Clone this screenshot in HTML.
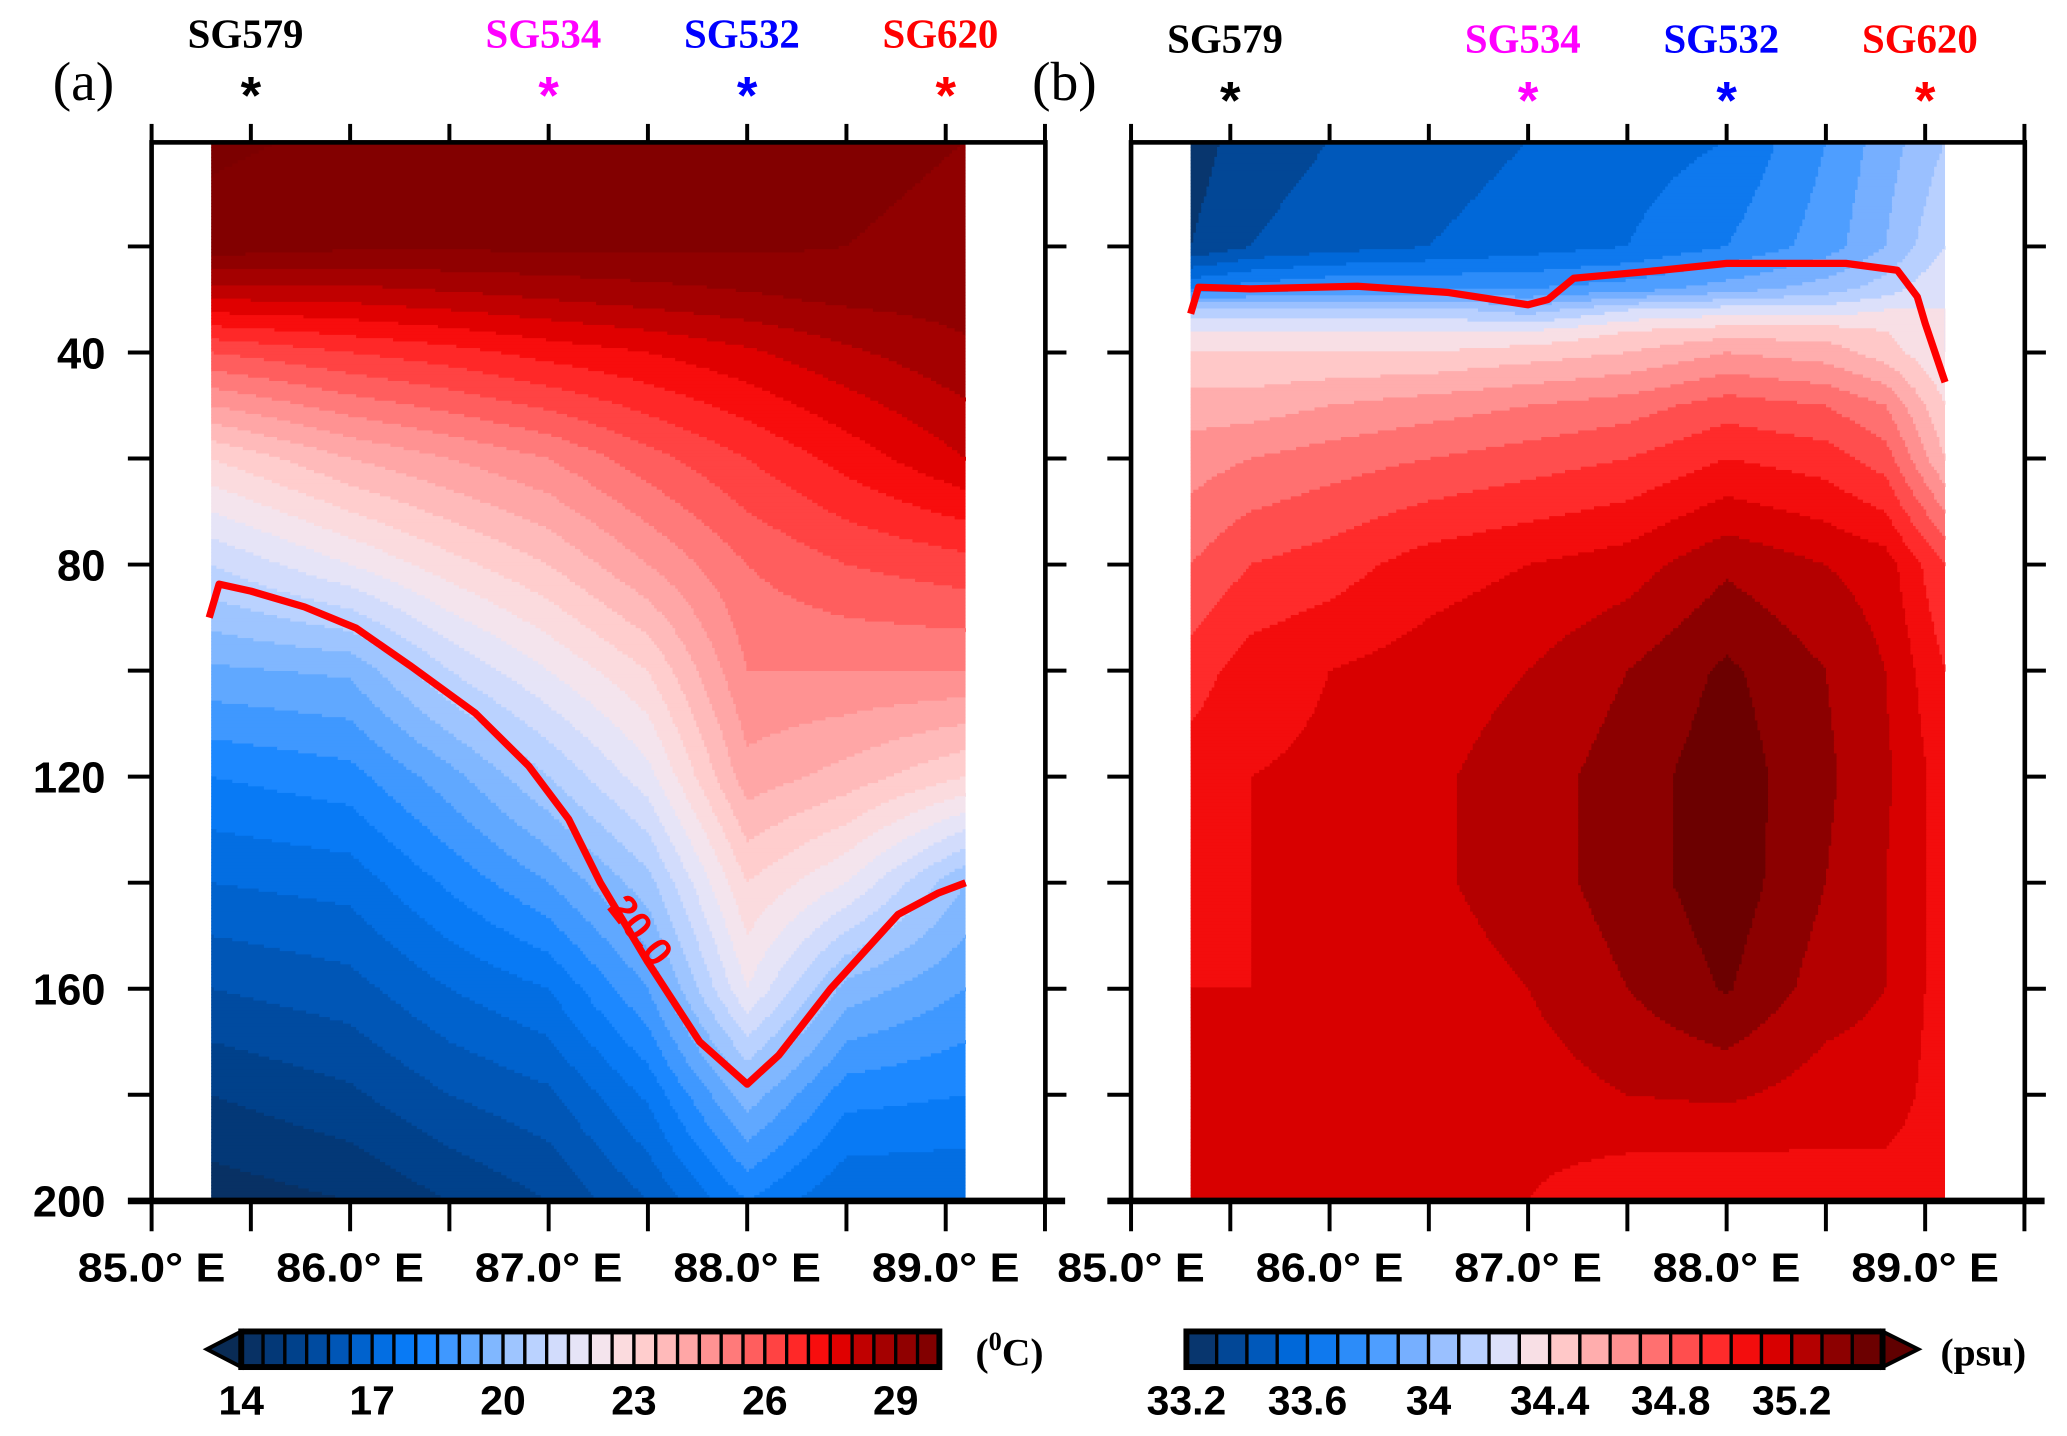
<!DOCTYPE html>
<html><head><meta charset="utf-8"><style>
html,body{margin:0;padding:0;background:#fff}
svg{display:block}
text{font-family:"Liberation Sans",sans-serif}
.ser{font-family:"Liberation Serif",serif}
</style></head><body>
<svg id="chart" xmlns="http://www.w3.org/2000/svg" width="2067" height="1436" viewBox="0 0 1568 1089.3" preserveAspectRatio="none">
<g id="root"></g>
</svg>
<script>
// ---------- data: temperature panel (a) ----------
const tLons = [85.3, 86, 86.5, 87, 87.5, 88, 88.5, 89.1];
const tDepths = [0, 20, 30, 40, 60, 80, 100, 120, 140, 160, 180, 200];
const tempRow0   = [30.1, 29.9, 29.8, 29.8, 29.7, 29.7, 29.6, 29.5];
const tempRow20  = [29.8, 29.6, 29.6, 29.6, 29.6, 29.6, 29.5, 29.4];
const tempRow30  = [28.0, 28.1, 28.3, 28.5, 28.7, 28.9, 29.1, 29.2];
const tempRow40  = [26.0, 26.5, 26.8, 27.2, 27.5, 27.9, 28.4, 28.9];
const tempRow60  = [23.0, 24.0, 24.5, 25.0, 25.8, 26.5, 27.2, 28.0];
const tempRow80  = [21.0, 22.0, 22.8, 23.5, 24.5, 25.5, 26.0, 26.3];
const tempRow100 = [19.4, 19.6, 21.0, 22.0, 23.0, 25.0, 25.0, 25.0];
const tempRow120 = [18.0, 18.3, 19.3, 20.5, 21.8, 24.3, 23.8, 23.0];
const tempRow140 = [17.0, 17.2, 18.1, 19.0, 20.3, 23.0, 22.0, 20.0];
const tempRow160 = [16.0, 16.3, 17.0, 17.5, 19.0, 22.0, 19.8, 19.0];
const tempRow180 = [15.0, 15.4, 16.0, 16.4, 17.6, 19.8, 18.2, 18.0];
const tempRow200 = [14.2, 14.5, 15.0, 15.5, 16.5, 18.0, 17.0, 17.0];
const tempRows = [tempRow0,tempRow20,tempRow30,tempRow40,tempRow60,tempRow80,tempRow100,tempRow120,tempRow140,tempRow160,tempRow180,tempRow200];
const iso20Lon   = [85.29,85.34,85.5,85.77,86.03,86.3,86.63,86.9,87.1,87.26,87.5,87.76,88.0,88.16,88.42,88.76,88.96,89.1];
const iso20Depth = [90,83.7,85,88,92,99,108,118,128,140,155,170,178,172.5,160,146,142,140];
// ---------- data: salinity panel (b) ----------
const sLons = [85.3, 85.6, 86, 86.5, 87, 87.5, 88, 88.5, 88.8, 89.1];
const sDepths = [0, 20, 28, 32, 36, 40, 50, 60, 80, 100, 120, 140, 160, 180, 200];
const salRow0   = [33.25,33.35,33.4,33.45,33.5,33.55,33.6,33.8,33.95,34.1];
const salRow20  = [33.3,33.4,33.45,33.5,33.55,33.6,33.7,33.85,34.0,34.2];
const salRow28  = [33.7,33.75,33.8,33.8,33.8,33.85,33.95,34.05,34.15,34.3];
const salRow32  = [34.15,34.15,34.15,34.15,34.05,34.2,34.25,34.25,34.3,34.3];
const salRow36  = [34.3,34.3,34.3,34.3,34.3,34.4,34.45,34.45,34.4,34.3];
const salRow40  = [34.4,34.4,34.4,34.4,34.45,34.5,34.6,34.55,34.45,34.3];
const salRow50  = [34.55,34.55,34.6,34.65,34.7,34.75,34.85,34.8,34.7,34.4];
const salRow60  = [34.65,34.7,34.75,34.8,34.85,34.9,35.0,34.95,34.85,34.5];
const salRow80  = [34.8,34.9,34.95,35.05,35.1,35.15,35.28,35.2,35.15,34.9];
const salRow100 = [34.95,35.05,35.1,35.15,35.2,35.3,35.42,35.3,35.2,35.0];
const salRow120 = [35.05,35.1,35.12,35.18,35.25,35.35,35.46,35.32,35.22,35.05];
const salRow140 = [35.08,35.1,35.12,35.18,35.25,35.35,35.46,35.3,35.2,35.05];
const salRow160 = [35.1,35.1,35.12,35.15,35.2,35.3,35.41,35.25,35.2,35.05];
const salRow180 = [35.15,35.15,35.15,35.15,35.15,35.2,35.22,35.15,35.15,35.05];
const salRow200 = [35.15,35.15,35.15,35.15,35.1,35.02,35.0,35.05,35.05,35.05];
const salRows = [salRow0,salRow20,salRow28,salRow32,salRow36,salRow40,salRow50,salRow60,salRow80,salRow100,salRow120,salRow140,salRow160,salRow180,salRow200];
const isoSLon   = [85.3,85.34,85.6,86.14,86.6,87.0,87.1,87.23,87.67,88.0,88.6,88.86,88.96,89.0,89.1];
const isoSDepth = [32.7,27.7,28,27.5,28.7,31,30,26,24.5,23.2,23.2,24.5,29.5,34.5,45.6];
// ---------- labels ----------
const xTickLabels = ["85.0° E","86.0° E","87.0° E","88.0° E","89.0° E"];
const xTickValues = [85,86,87,88,89];
const yTickLabels = ["40","80","120","160","200"];
const yTickValues = [40,80,120,160,200];
const gliderNames = ["SG579","SG534","SG532","SG620"];
const gliderLons = [85.5,87.0,88.0,89.0];
const gliderColors = ["#000","#ff00ff","#0000ff","#ff0000"];
const tBarLabels = ["14","17","20","23","26","29"];
const tBarValues = [14,17,20,23,26,29];
const sBarLabels = ["33.2","33.6","34","34.4","34.8","35.2"];
const sBarValues = [33.2,33.6,34.0,34.4,34.8,35.2];

const tStops = [[13.5,"#082850"],[14,"#0a2d5a"],[15,"#003c80"],[16,"#0050aa"],[17,"#0068d8"],[18,"#0a80ff"],[19,"#50a0ff"],[20,"#90bfff"],[21,"#c8d8ff"],[22,"#f0e8f4"],[23,"#ffd6d6"],[24,"#ffb0b0"],[25,"#ff8888"],[26,"#ff5050"],[27,"#ff1a1a"],[27.5,"#f00000"],[28,"#d00000"],[28.5,"#b00000"],[29,"#980000"],[29.5,"#880000"],[30,"#7c0000"]];
const sStops = [[33.1,"#082850"],[33.2,"#0a2d5a"],[33.4,"#0050aa"],[33.6,"#0070e8"],[33.8,"#3a95ff"],[34.0,"#8ab8ff"],[34.2,"#c8d8ff"],[34.3,"#f0e8f4"],[34.4,"#ffd6d6"],[34.6,"#ffa0a0"],[34.8,"#ff6060"],[35.0,"#ff1a1a"],[35.1,"#e80000"],[35.2,"#c80000"],[35.3,"#a00000"],[35.4,"#780000"],[35.5,"#600000"]];

const NS = "http://www.w3.org/2000/svg";
const root = document.getElementById('root');
function mk(tag, attrs, parent){const e=document.createElementNS(NS,tag);for(const k in attrs)e.setAttribute(k,attrs[k]);(parent||root).appendChild(e);return e;}
function hex(c){return [parseInt(c.substr(1,2),16),parseInt(c.substr(3,2),16),parseInt(c.substr(5,2),16)];}
function cmap(stops,v){
  if(v<=stops[0][0])return stops[0][1];
  for(let i=1;i<stops.length;i++){if(v<=stops[i][0]){const a=hex(stops[i-1][1]),b=hex(stops[i][1]);const f=(v-stops[i-1][0])/(stops[i][0]-stops[i-1][0]);return "rgb("+a.map((x,j)=>Math.round(x+(b[j]-x)*f)).join(",")+")";}}
  return stops[stops.length-1][1];
}
function interp(xs,ys,rows,x,y){
  let i=0;while(i<xs.length-2&&x>xs[i+1])i++;
  let j=0;while(j<ys.length-2&&y>ys[j+1])j++;
  const fx=Math.max(0,Math.min(1,(x-xs[i])/(xs[i+1]-xs[i])));
  const fy=Math.max(0,Math.min(1,(y-ys[j])/(ys[j+1]-ys[j])));
  const a=rows[j][i],b=rows[j][i+1],c=rows[j+1][i],d=rows[j+1][i+1];
  return a*(1-fx)*(1-fy)+b*fx*(1-fy)+c*(1-fx)*fy+d*fx*fy;
}
const Y0=106.5, PX_M=4.022, PX_DEG=150.6;
function yS(d){return Y0+d*PX_M;}

function panel(name, left, lons, depths, rows, stops, lo, step, isoLon, isoDepth, labelY){
  const xS = l => left+(l-85)*PX_DEG;
  const g = mk('g',{});  
  const fg = mk('g',{},g);  
  const x0=xS(lons[0]), x1=xS(lons[lons.length-1]);
  const ys0=yS(0), ys1=yS(200), dy=2.5, dx=2;
  function emit(xa,xb,py,lev){
    const r=mk('rect',{x:xa.toFixed(2),y:py.toFixed(2),width:(xb-xa+0.6).toFixed(2),height:(Math.min(dy+0.5,ys1-py)).toFixed(2),fill:cmap(stops,lo+(lev+0.5)*step)},fg);
    
    
  }
  for(let py=ys0;py<ys1;py+=dy){
    const d=(py+dy/2-Y0)/PX_M;
    let runStart=x0, runLev=null;
    for(let px=x0;px<x1;px+=dx){
      const l=85+(Math.min(px+dx/2,x1)-left)/PX_DEG;
      const v=interp(lons,depths,rows,l,d);
      const lev=Math.floor((v-lo)/step);
      if(lev!==runLev){
        if(runLev!==null) emit(runStart,px,py,runLev);
        runStart=px; runLev=lev;
      }
    }
    if(runLev!==null) emit(runStart,x1-0.6,py,runLev);
  }
  // contour line
  const pts=isoLon.map((l,i)=>xS(l).toFixed(1)+","+yS(isoDepth[i]).toFixed(1)).join(" ");
  const pl=mk('polyline',{points:pts,fill:"none",stroke:"#ff0000","stroke-width":5.5,"stroke-linejoin":"round"},g);
  
  
  // frame
  const R=left+678, T=108, B=911;
  const fr=mk('rect',{x:left,y:T,width:678,height:B-T,fill:"none",stroke:"#000","stroke-width":3.5},g);
  
  
  const bl=mk('line',{x1:left-18,y1:B,x2:R+15,y2:B,stroke:"#000","stroke-width":5},g);
  
  
  for(let k=0;k<=9;k++){
    const x=left+k*PX_DEG/2;
    mk('line',{x1:x,y1:T,x2:x,y2:T-14,stroke:"#000","stroke-width":3},g);
    mk('line',{x1:x,y1:B,x2:x,y2:B+23,stroke:"#000","stroke-width":3},g);
  }
  for(let k=1;k<10;k++){
    const y=yS(k*20);
    mk('line',{x1:left,y1:y,x2:left-18,y2:y,stroke:"#000","stroke-width":3},g);
    mk('line',{x1:R,y1:y,x2:R+16,y2:y,stroke:"#000","stroke-width":3},g);
  }
  xTickValues.forEach((v,i)=>{
    const t=mk('text',{x:xS(v),y:972,"text-anchor":"middle","font-size":31,"font-weight":"bold",textLength:112,lengthAdjust:"spacingAndGlyphs"},g);
    t.textContent=xTickLabels[i];
    
    
  });
  gliderNames.forEach((n,i)=>{
    const x=xS(gliderLons[i]);
    const t=mk('text',{x:x-4,y:labelY,"text-anchor":"middle","font-size":31,"font-weight":"bold",fill:gliderColors[i],"class":"ser"},g);
    t.textContent=n;
    
    
    const s=mk('text',{x:x,y:labelY+50,"text-anchor":"middle","font-size":40,"font-weight":"bold",fill:gliderColors[i]},g);
    s.textContent="*";
    
    
  });
  return xS;
}
const xa = panel('temperature',115,tLons,tDepths,tempRows,tStops,13.5,0.5,iso20Lon,iso20Depth,36);
const xb = panel('salinity',858,sLons,sDepths,salRows,sStops,33.1,0.1,isoSLon,isoSDepth,40);

// y tick labels (left panel only)
yTickValues.forEach((v,i)=>{
  const t=mk('text',{x:80,y:yS(v)+12,"text-anchor":"end","font-size":33,"font-weight":"bold"});
  t.textContent=yTickLabels[i];
  
  
});
// panel tags
[["(a)",40],["(b)",783]].forEach(p=>{
  const t=mk('text',{x:p[1],y:76,"font-size":42,"class":"ser"});
  t.textContent=p[0];
  
  
});
// 20.0 label
const lab=mk('text',{x:478,y:712,"text-anchor":"middle","font-size":30,"font-weight":"bold",fill:"#ff0000",transform:"rotate(52 478 712)"});
lab.textContent="20.0";



// colorbars
function colorbar(name,x0,lo,step,n,stops,vals,labels,pxPer,leftTri,rightTri,unit,ux){
  const g=mk('g',{});  
  const T=1010,B=1037,w=pxPer*step;
  for(let i=0;i<n;i++){
    const r=mk('rect',{x:x0+i*w,y:T,width:w,height:B-T,fill:cmap(stops,lo+(i+0.5)*step),stroke:"#000","stroke-width":2.5},g);
    
    
  }
  const x1=x0+n*w;
  if(leftTri){const p=mk('polygon',{points:`${x0},${T} ${x0-26},${(T+B)/2} ${x0},${B}`,fill:cmap(stops,lo-step/2),stroke:"#000","stroke-width":3},g);}
  if(rightTri){const p=mk('polygon',{points:`${x1},${T} ${x1+27},${(T+B)/2} ${x1},${B}`,fill:cmap(stops,lo+(n+0.5)*step),stroke:"#000","stroke-width":3},g);}
  mk('rect',{x:x0,y:T,width:x1-x0,height:B-T,fill:"none",stroke:"#000","stroke-width":4.5},g);
  vals.forEach((v,i)=>{
    const t=mk('text',{x:x0+(v-lo)*pxPer,y:1073,"text-anchor":"middle","font-size":31,"font-weight":"bold"},g);
    t.textContent=labels[i];
    
    
  });
  const u=mk('text',{x:ux,y:1036,"font-size":30,"font-weight":"bold","class":"ser"},g);
  u.innerHTML=unit;
  
  
}
colorbar('temperature-colorbar',183,14,0.5,32,tStops,tBarValues,tBarLabels,33.1,true,false,'(<tspan dy="-12" font-size="20">0</tspan><tspan dy="12">C)</tspan>',740);
colorbar('salinity-colorbar',900,33.2,0.1,23,sStops,sBarValues,sBarLabels,229.6,false,true,'(psu)',1472);
</script>
</body></html>
